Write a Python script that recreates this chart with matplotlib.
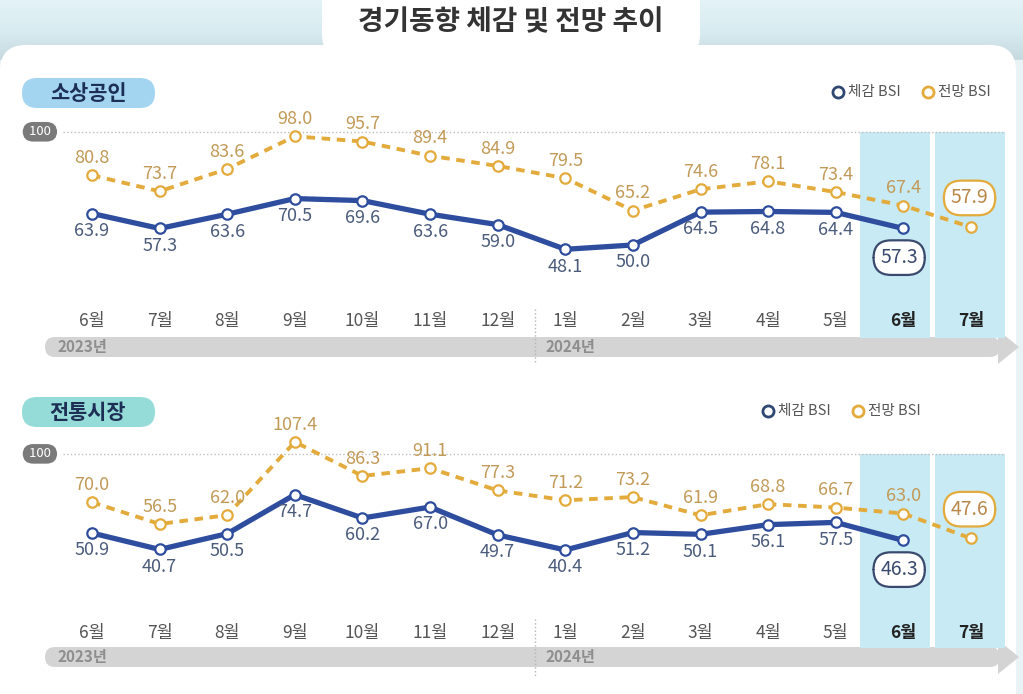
import numpy as np
import matplotlib.pyplot as plt
from matplotlib.patches import FancyBboxPatch, Polygon, Rectangle
from matplotlib.colors import LinearSegmentedColormap
from matplotlib.transforms import blended_transform_factory

plt.rcParams['font.family'] = ['Noto Sans CJK KR', 'DejaVu Sans']

# data
months = ['6월', '7월', '8월', '9월', '10월', '11월', '12월',
          '1월', '2월', '3월', '4월', '5월', '6월', '7월']
years = ['2023년', '2024년']
sme_now = [63.9, 57.3, 63.6, 70.5, 69.6, 63.6, 59.0, 48.1, 50.0, 64.5, 64.8, 64.4, 57.3]
sme_outlook = [80.8, 73.7, 83.6, 98.0, 95.7, 89.4, 84.9, 79.5, 65.2, 74.6, 78.1, 73.4, 67.4, 57.9]
mkt_now = [50.9, 40.7, 50.5, 74.7, 60.2, 67.0, 49.7, 40.4, 51.2, 50.1, 56.1, 57.5, 46.3]
mkt_outlook = [70.0, 56.5, 62.0, 107.4, 86.3, 91.1, 77.3, 71.2, 73.2, 61.9, 68.8, 66.7, 63.0, 47.6]

NAVY = '#2e4d9e'
NAVY_TXT = '#4b5b7c'
GOLD = '#e3ab3c'
GOLD_TXT = '#c29a58'
CYAN = '#c8eaf4'

W, H = 1023, 694
fig = plt.figure(figsize=(W / 100, H / 100), dpi=100)

# background in pixel coords
bg = fig.add_axes([0, 0, 1, 1], zorder=0)
bg.set_xlim(0, W)
bg.set_ylim(H, 0)
bg.axis('off')
grad = np.linspace(0, 1, 60).reshape(-1, 1)
cm = LinearSegmentedColormap.from_list('bgc', ['#e3f3f7', '#d9ecf1', '#c6d9df'])
bg.imshow(grad, cmap=cm, extent=(0, W, 60, 0), aspect='auto', zorder=0)
bg.add_patch(Rectangle((0, 60), W, H, color='#e9f2f4', zorder=0))
bg.add_patch(FancyBboxPatch((0, 45), 1016, 700, boxstyle='round,pad=0,rounding_size=26',
                            fc='white', ec='none', zorder=1))
bg.add_patch(FancyBboxPatch((322, -30), 378, 90, boxstyle='round,pad=0,rounding_size=26',
                            fc='white', ec='none', zorder=1))
bg.text(511, 22, '경기동향 체감 및 전망 추이', ha='center', va='center',
        fontsize=20, fontweight='bold', color='#333333', zorder=3)


def panel_decor(name, pill_color, pill_y, legend_y, legend_x, band_y):
    bg.add_patch(FancyBboxPatch((22, pill_y), 133, 30, boxstyle='round,pad=0,rounding_size=15',
                                fc=pill_color, ec='none', zorder=2))
    bg.text(88, pill_y + 15, name, ha='center', va='center', fontsize=15,
            fontweight='bold', color='#1e2f56', zorder=3)
    # legend
    bg.plot([legend_x], [legend_y], 'o', ms=8, mfc='white', mec='#2f4773', mew=2, zorder=3)
    bg.text(legend_x + 10, legend_y, '체감 BSI', ha='left', va='center', fontsize=10.5,
            color='#555555', zorder=3)
    bg.plot([legend_x + 90], [legend_y], 'o', ms=8, mfc='white', mec=GOLD, mew=2, zorder=3)
    bg.text(legend_x + 100, legend_y, '전망 BSI', ha='left', va='center', fontsize=10.5,
            color='#555555', zorder=3)
    # year arrow band
    bg.add_patch(FancyBboxPatch((45, band_y), 955, 20, boxstyle='round,pad=0,rounding_size=10',
                                fc='#d4d4d4', ec='none', zorder=2))
    bg.add_patch(Polygon([(998, band_y - 7), (1019, band_y + 10), (998, band_y + 27)],
                         closed=True, fc='#d4d4d4', ec='none', zorder=2))
    bg.text(57, band_y + 10, years[0], ha='left', va='center', fontsize=11,
            fontweight='bold', color='#8e8e8e', zorder=3)
    bg.text(546, band_y + 10, years[1], ha='left', va='center', fontsize=11,
            fontweight='bold', color='#8e8e8e', zorder=3)


def draw_panel(rect_px, ylim, now, outlook, label_pad):
    top_px, bot_px = rect_px
    ax = fig.add_axes([0, 1 - bot_px / H, 1, (bot_px - top_px) / H], zorder=2)
    ax.patch.set_alpha(0)
    ax.set_xlim(-1.361, 13.77)
    ax.set_ylim(*ylim)
    for s in ax.spines.values():
        s.set_visible(False)
    ax.set_yticks([])
    x = np.arange(len(months))
    ax.set_xticks(x)
    ax.set_xticklabels(months)
    ax.tick_params(axis='x', length=0, pad=label_pad, labelsize=12.5, labelcolor='#555555')
    for lab in ax.get_xticklabels()[-2:]:
        lab.set_fontweight('bold')
        lab.set_color('#222222')

    tr = blended_transform_factory(ax.transData, ax.transAxes)
    top_frac = (100 - ylim[0]) / (ylim[1] - ylim[0])
    band_frac = -33 / (bot_px - top_px)
    ax.add_patch(Rectangle((11.36, band_frac), 1.04, top_frac - band_frac, transform=tr,
                           fc=CYAN, ec='none', clip_on=False, zorder=0))
    ax.add_patch(Rectangle((12.47, band_frac), 1.03, top_frac - band_frac, transform=tr,
                           fc=CYAN, ec='none', clip_on=False, zorder=0))
    ax.plot([6.55, 6.55], [-0.02, -0.32], transform=tr, ls=':', color='#b5b5b5',
            lw=1, clip_on=False, zorder=0)

    # 100 line and badge
    ax.axhline(100, xmin=0.062, xmax=0.982, ls=':', color='#bdbdbd', lw=1, zorder=1)
    tr2 = blended_transform_factory(ax.transAxes, ax.transData)
    ax.text(0.039, 100, ' 100 ', transform=tr2, ha='center', va='center', fontsize=9.5,
            color='white', zorder=3,
            bbox=dict(boxstyle='round,pad=0.25,rounding_size=0.8', fc='#7a7a7a', ec='none'))

    xo = np.arange(len(outlook))
    xn = np.arange(len(now))
    ax.plot(xo, outlook, color=GOLD, lw=2.8, dashes=(2.2, 1.7), marker='o', ms=7.5,
            mfc='white', mec=GOLD, mew=1.6, zorder=3)
    ax.plot(xn, now, color=NAVY, lw=3.8, marker='o', ms=7.5,
            mfc='white', mec=NAVY, mew=1.6, zorder=4)

    for i, v in enumerate(outlook[:-1]):
        ax.annotate(f'{v:.1f}', (i, v), xytext=(0, 6), textcoords='offset points',
                    ha='center', va='bottom', fontsize=13, color=GOLD_TXT, zorder=5)
    for i, v in enumerate(now[:-1]):
        ax.annotate(f'{v:.1f}', (i, v), xytext=(0, -6), textcoords='offset points',
                    ha='center', va='top', fontsize=13, color=NAVY_TXT, zorder=5)
    ax.annotate(f'{outlook[-1]:.1f}', (len(outlook) - 1, outlook[-1]), xytext=(-1, 21),
                textcoords='offset points', ha='center', va='center', fontsize=14,
                color='#b8874a', zorder=5,
                bbox=dict(boxstyle='round,pad=0.35,rounding_size=0.9', fc='white',
                          ec=GOLD, lw=1.6))
    ax.annotate(f'{now[-1]:.1f}', (len(now) - 1, now[-1]), xytext=(-3, -21),
                textcoords='offset points', ha='center', va='center', fontsize=14,
                color='#3a4a6e', zorder=5,
                bbox=dict(boxstyle='round,pad=0.35,rounding_size=0.9', fc='white',
                          ec='#3a4a6e', lw=1.6))
    return ax


# top panel: 소상공인
panel_decor('소상공인', '#a3d5f1', 78, 92, 838, 337)
draw_panel((120, 305), (23.5, 105.2), sme_now, sme_outlook, 5)

# bottom panel: 전통시장
panel_decor('전통시장', '#95dbd7', 397, 411, 768, 647)
draw_panel((425, 615), (0.06, 117.9), mkt_now, mkt_outlook, 6.5)

fig.savefig('out.png', dpi=100)
